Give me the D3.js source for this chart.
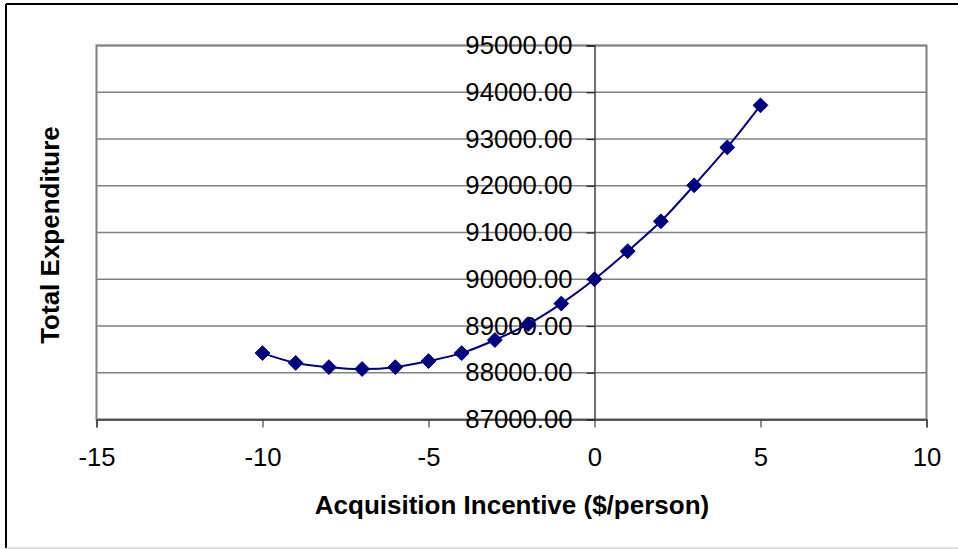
<!DOCTYPE html>
<html>
<head>
<meta charset="utf-8">
<script src="https://cdn.jsdelivr.net/npm/d3@7/dist/d3.min.js"></script>
<style>
  html, body { margin: 0; padding: 0; background: #fff; }
  svg { display: block; font-family: Arial, "Liberation Sans", sans-serif; }
</style>
</head>
<body>
<svg id="chart" width="958" height="549"></svg>
<script>
const incentive = [-10, -9, -8, -7, -6, -5, -4, -3, -2, -1, 0, 1, 2, 3, 4, 5];
const expenditure = [88420, 88210, 88120, 88080, 88120, 88250, 88420, 88700, 89040, 89480, 90000, 90600, 91240, 92010, 92820, 93720];
const xTicks = [-15, -10, -5, 0, 5, 10];
const yTicks = [87000, 88000, 89000, 90000, 91000, 92000, 93000, 94000, 95000];
const xTitle = "Acquisition Incentive ($/person)";
const yTitle = "Total Expenditure";

const svg = d3.select("#chart");
const L = 96.5, R = 926.5, T = 45.5, B = 419.5;

const x = d3.scaleLinear().domain([-15, 10]).range([L, R]);
const y = d3.scaleLinear().domain([87000, 95000]).range([B, T]);

// outer chart border
svg.append("line").attr("x1", 6).attr("x2", 958).attr("y1", 4).attr("y2", 4).attr("stroke", "#000").attr("stroke-width", 2);
svg.append("line").attr("x1", 6).attr("x2", 6).attr("y1", 4).attr("y2", 548).attr("stroke", "#000").attr("stroke-width", 2);
svg.append("line").attr("x1", 6).attr("x2", 958).attr("y1", 548).attr("y2", 548).attr("stroke", "#c0c0c0").attr("stroke-width", 1);

// gridlines
svg.append("g").selectAll("line").data(yTicks).join("line")
  .attr("x1", L).attr("x2", R)
  .attr("y1", d => y(d)).attr("y2", d => y(d))
  .attr("stroke", "#808080").attr("stroke-width", 1.5);

// plot border
svg.append("rect").attr("x", L).attr("y", T).attr("width", R - L).attr("height", B - T)
  .attr("fill", "none").attr("stroke", "#808080").attr("stroke-width", 2);

// x axis at bottom
const xAxis = svg.append("g").attr("transform", `translate(0,${B})`)
  .call(d3.axisBottom(x).tickValues(xTicks).tickSize(8).tickPadding(20).tickFormat(d3.format("d")));
xAxis.select(".domain").attr("stroke", "#404040").attr("stroke-width", 1.5);
xAxis.selectAll(".tick line").attr("stroke", "#404040").attr("stroke-width", 1.2);
xAxis.selectAll(".tick text").attr("font-size", 25.7).attr("fill", "#000")
  .attr("font-family", "Arial, 'Liberation Sans', sans-serif")
  .text(d => d < 0 ? "-" + Math.abs(d) : d);

// y axis at x = 0
const yAxis = svg.append("g").attr("transform", `translate(${x(0)},0)`)
  .call(d3.axisLeft(y).tickValues(yTicks).tickSize(8).tickPadding(14).tickFormat(d3.format(".2f")));
yAxis.select(".domain").attr("stroke", "#404040").attr("stroke-width", 1.5);
yAxis.selectAll(".tick line").attr("stroke", "#202020").attr("stroke-width", 1.2);
yAxis.selectAll(".tick text").attr("font-size", 25.7).attr("fill", "#000")
  .attr("font-family", "Arial, 'Liberation Sans', sans-serif");

// data
const data = incentive.map((v, i) => ({ x: v, y: expenditure[i] }));
const line = d3.line().x(d => x(d.x)).y(d => y(d.y)).curve(d3.curveCatmullRom.alpha(0.5));
svg.append("path").datum(data).attr("d", line)
  .attr("fill", "none").attr("stroke", "#000080").attr("stroke-width", 2);

const diamond = d3.symbol().type(d3.symbolDiamond2).size(140);
svg.append("g").selectAll("path").data(data).join("path")
  .attr("d", diamond)
  .attr("transform", d => `translate(${x(d.x)},${y(d.y)})`)
  .attr("fill", "#000080").attr("stroke", "#000080").attr("stroke-width", 1);

// titles
svg.append("text").attr("x", 512).attr("y", 514)
  .attr("text-anchor", "middle").attr("font-size", 26).attr("font-weight", "bold")
  .text(xTitle);
svg.append("text").attr("transform", `translate(59,235) rotate(-90)`)
  .attr("text-anchor", "middle").attr("font-size", 26).attr("font-weight", "bold")
  .text(yTitle);
</script>
</body>
</html>
